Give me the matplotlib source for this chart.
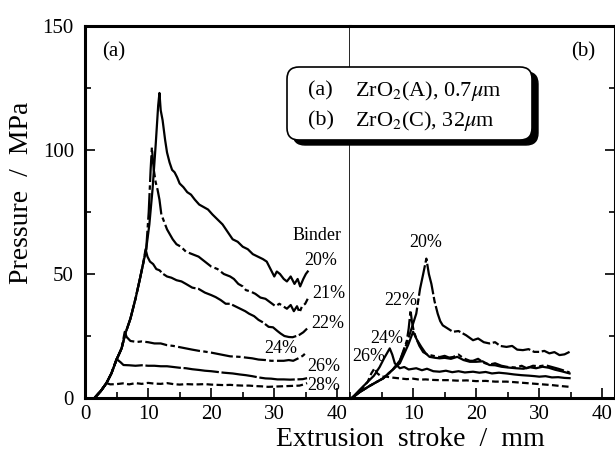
import matplotlib.pyplot as plt
from matplotlib.patches import FancyBboxPatch
from matplotlib.transforms import IdentityTransform
from matplotlib.ticker import MultipleLocator, FixedLocator

plt.rcParams['font.family'] = ['Liberation Serif', 'DejaVu Serif']
plt.rcParams['mathtext.fontset'] = 'stix'

# ---- data: (stroke mm, pressure MPa) ----
# panel (a) ZrO2(A), 0.7 um
a20 = [(1.5, 0), (2.5, 2.8), (3.4, 6), (4.2, 10), (5.0, 15.5), (5.8, 20), (6.4, 26), (7.2, 32), (8.0, 40),
       (8.7, 48), (9.2, 54), (9.7, 60), (10.2, 70), (10.7, 84), (11.2, 102), (11.6, 118), (11.8, 123),
       (12.0, 116), (12.3, 112), (12.7, 104), (13.0, 99), (13.4, 95), (13.8, 92), (14.2, 91), (14.6, 89),
       (15.0, 86.5), (15.6, 85), (16.2, 83), (16.8, 82), (17.4, 80), (18.1, 78), (18.8, 77), (19.5, 76),
       (20.2, 74), (21.0, 72), (21.8, 70), (22.6, 67), (23.4, 64), (24.2, 63), (25.0, 61), (25.8, 60),
       (26.6, 58), (27.4, 57), (28.2, 56), (28.8, 55), (29.4, 52), (30.0, 49), (30.4, 51), (30.9, 50),
       (31.5, 48), (32.0, 47), (32.6, 49), (33.2, 46), (33.7, 48), (34.1, 45), (34.6, 48), (35.0, 50), (35.3, 51)]
a21 = [(1.5, 0), (2.5, 2.8), (3.4, 6), (4.2, 10), (5.0, 15.5), (5.8, 20), (6.4, 26), (7.2, 32), (8.0, 40),
       (8.7, 48), (9.2, 54), (9.7, 60), (10.1, 75), (10.4, 92), (10.6, 101), (10.9, 92), (11.2, 87),
       (11.5, 84), (11.8, 80), (12.1, 74), (12.4, 72), (13.0, 68), (13.9, 64), (14.5, 62), (15.2, 61),
       (16.0, 59), (17.0, 58), (18.0, 57), (19.0, 55), (20.0, 53), (21.0, 52), (22.0, 50), (23.0, 49),
       (23.6, 48), (24.3, 46), (25.0, 45), (25.5, 43.5), (26.2, 43), (27.0, 42), (27.8, 40.5), (28.6, 40),
       (29.4, 38.5), (30.2, 37), (30.8, 38), (31.4, 37), (32.0, 36), (32.6, 37.5), (33.1, 35), (33.6, 37),
       (34.0, 34.5), (34.4, 37), (34.9, 38), (35.3, 40)]
a22 = [(1.5, 0), (2.5, 2.8), (3.4, 6), (4.2, 10), (5.0, 15.5), (5.8, 20), (6.4, 26), (7.2, 32), (8.0, 40),
       (8.7, 48), (9.2, 54), (9.6, 60), (9.9, 57), (10.3, 55), (10.8, 54), (11.3, 52), (11.8, 51.5),
       (12.4, 50), (13.0, 49), (13.7, 48.5), (14.5, 47.5), (15.3, 47), (16.0, 46), (17.0, 44.5), (18.0, 44),
       (19.0, 42.5), (20.0, 41.5), (20.7, 40.7), (21.5, 39.5), (22.3, 38), (23.0, 38), (23.8, 37), (24.6, 36),
       (25.4, 35), (26.0, 34), (26.8, 33), (27.5, 31.5), (28.2, 30.5), (29.1, 28.7), (29.8, 28.5), (30.5, 27),
       (31.0, 26), (31.6, 25), (32.3, 24.6), (32.9, 24.5), (33.5, 25), (34.0, 25.5), (34.6, 26.5), (35.2, 28)]
a24 = [(1.5, 0), (2.5, 2.8), (3.4, 6), (4.2, 10), (5.0, 15.5), (5.8, 20), (6.3, 26.7), (6.6, 24.6), (7.2, 23),
       (8.2, 22.6), (9.0, 22.8), (10.0, 22.5), (11.0, 22), (12.0, 22), (13.0, 21.3), (14.0, 21), (15.0, 20.5),
       (16.0, 20), (17.0, 19.5), (18.1, 19), (19.0, 18.7), (20.0, 18.3), (21.0, 17.8), (22.0, 17.3), (23.0, 16.8),
       (24.5, 16.6), (25.5, 16.3), (26.5, 16), (27.5, 15.5), (28.6, 15.3), (29.5, 15), (30.5, 15), (31.5, 15),
       (32.3, 15.3), (33.0, 15), (33.8, 16), (34.5, 17), (35.2, 18.6)]
a26 = [(1.5, 0), (2.5, 2.8), (3.4, 6), (4.2, 10), (5.0, 15.7), (5.6, 14.5), (6.1, 13.3), (7.0, 13.2), (8.0, 13),
       (9.0, 13.2), (10.0, 13), (11.0, 13), (12.0, 12.8), (13.0, 12.8), (14.0, 12.5), (15.0, 12.2), (16.0, 12),
       (17.0, 11.6), (18.1, 11.3), (19.0, 11), (20.0, 10.8), (21.0, 10.5), (22.0, 10.2), (23.4, 9.9), (24.5, 9.5),
       (25.5, 9.2), (26.5, 8.8), (27.5, 8.3), (28.6, 7.9), (29.5, 7.8), (30.5, 7.5), (31.5, 7.5), (32.5, 7.4),
       (33.5, 7.5), (34.5, 7.6), (35.2, 8)]
a28 = [(1.5, 0), (2.5, 2.8), (3.4, 6), (4.0, 5.5), (5.0, 5.6), (6.0, 5.9), (7.0, 5.5), (8.0, 6), (9.0, 5.7),
       (10.0, 6.1), (11.0, 5.8), (12.0, 5.7), (13.0, 6), (14.0, 5.6), (15.0, 5.4), (16.0, 5.6), (17.0, 5.5),
       (18.0, 5.5), (19.0, 5.6), (20.0, 5.4), (21.0, 5.3), (22.0, 5.2), (23.0, 5.3), (24.0, 5.1), (25.0, 5),
       (26.0, 5), (27.0, 4.8), (28.0, 4.7), (29.0, 4.5), (30.0, 4.6), (31.0, 4.7), (32.0, 4.8), (33.0, 4.9),
       (34.0, 5), (34.7, 5.5), (35.2, 6)]

# panel (b) ZrO2(C), 32 um
b20 = [(0.3, 0), (1.6, 2.5), (3.2, 5), (5.3, 8), (6.8, 11.5), (7.9, 15), (9.0, 22), (10.5, 34), (11.1, 44),
       (11.6, 50), (12.1, 56.2), (12.5, 50), (12.9, 46), (13.4, 39), (13.9, 34), (14.3, 31), (14.7, 29.3),
       (15.5, 28), (16.3, 26.7), (17.2, 27), (18.4, 25.3), (19.5, 23.3), (20.3, 24), (21.2, 22.5), (22.1, 22),
       (23.0, 22.5), (23.8, 21), (24.8, 20.6), (25.7, 21), (26.5, 19.5), (27.4, 19.3), (28.3, 19.7), (29.2, 18.6),
       (30.0, 18.6), (30.8, 19), (31.6, 18), (32.4, 18.5), (33.2, 17.3), (34.0, 17.6), (34.8, 18.6)]
b22 = [(0.3, 0), (1.6, 2.5), (3.2, 5), (5.3, 8), (6.8, 11.5), (7.9, 15), (9.0, 23), (9.3, 28), (9.6, 35.4),
       (9.8, 31), (10.1, 27), (10.5, 24), (11.0, 21), (11.6, 18.5), (12.3, 17.5), (13.2, 17), (14.2, 16.5),
       (15.0, 17), (15.7, 16.3), (16.3, 16.5), (17.2, 17.5), (18.0, 16), (19.0, 15), (19.5, 15), (20.3, 15.8),
       (21.2, 14.2), (22.1, 13.5), (23.0, 14), (24.0, 13), (25.0, 12.5), (26.3, 12.3), (27.2, 13), (28.0, 12),
       (29.0, 13), (30.0, 12.8), (31.0, 13.2), (32.0, 12.5), (33.0, 11.8), (34.0, 11), (34.8, 10.3)]
b24 = [(0.3, 0), (1.6, 2.5), (3.2, 5), (5.3, 8), (6.8, 11.5), (7.9, 14), (9.2, 21.3), (10.0, 26.7), (10.6, 23.5),
       (11.3, 20.6), (12.0, 18), (12.6, 16.6), (13.5, 16.2), (14.2, 16), (15.0, 16.2), (16.0, 15.8), (17.0, 16.6),
       (18.0, 15.3), (19.0, 14.6), (20.0, 14.6), (21.0, 14.8), (22.1, 13.3), (23.0, 13.2), (24.0, 12.6),
       (25.0, 12.3), (26.3, 12), (27.5, 11.8), (28.5, 12.4), (29.5, 12), (30.5, 12.6), (31.5, 12.2),
       (32.5, 11.4), (33.5, 10.8), (34.8, 9.9)]
b26 = [(0.3, 0), (1.5, 3.2), (2.6, 6), (3.8, 9), (4.7, 12.5), (5.4, 16), (6.3, 20), (6.7, 17.5), (7.1, 14),
       (7.9, 12), (8.6, 12.5), (9.3, 11.5), (10.5, 12), (11.4, 11.2), (12.2, 11.8), (13.2, 10.8), (14.2, 10.6),
       (15.2, 11), (16.2, 10.4), (17.2, 10.8), (18.2, 10.3), (19.5, 10.6), (20.5, 10.2), (21.5, 10.5),
       (22.5, 9.9), (23.6, 10.2), (24.8, 9.9), (26.0, 9.5), (27.2, 9.2), (28.4, 9), (29.3, 8.8), (30.0, 8.6),
       (31.0, 8.8), (32.0, 8.3), (33.0, 8.4), (34.0, 8.1), (34.8, 8)]
b28 = [(0.3, 0), (1.6, 3), (2.8, 6.5), (3.4, 10), (3.9, 12), (4.3, 10), (5.0, 8.6), (5.8, 8.6), (6.8, 8.2),
       (7.9, 7.9), (9.0, 7.6), (10.0, 7.8), (11.0, 7.4), (12.0, 7.5), (13.0, 7.3), (14.2, 7.2), (15.5, 7.2),
       (17.0, 7), (18.5, 7.1), (20.0, 6.8), (21.5, 6.9), (23.0, 6.6), (24.8, 6.6), (26.0, 6.4), (27.5, 6.1),
       (29.0, 5.8), (30.5, 5.5), (32.0, 5.2), (33.5, 4.8), (34.8, 4.5)]

# curve labels: (text, x, y)
a_labels = [('Binder', 36.8, 65.5), ('20%', 37.4, 55.5), ('21%', 38.7, 42.0), ('22%', 38.4, 30.2),
            ('24%', 31.1, 20.1), ('26%', 37.9, 12.6), ('28%', 37.9, 5.2)]
b_labels = [('20%', 12.0, 62.8), ('22%', 8.0, 39.4), ('24%', 5.8, 24.0), ('26%', 2.9, 16.6)]

W, H = 615, 458
fig = plt.figure(figsize=(W / 100, H / 100), dpi=100)
ax1 = fig.add_axes([85 / W, 60 / H, 265 / W, 372 / H])
ax2 = fig.add_axes([350 / W, 60 / H, 265 / W, 372 / H])

lw = 1.6
a_styles = [(a20, (None, None)), (a21, (12, 1.5, 2, 1.5)), (a22, (16, 1.2)),
            (a24, (10, 1.5, 2, 1.5)), (a26, (16, 1.2)), (a28, (3, 1.5))]
b_styles = [(b20, (14, 1.2, 3, 1.2)), (b22, (8, 1.5, 2, 1.5)), (b24, (None, None)),
            (b26, (None, None)), (b28, (3, 1.5))]

for ax, styles in [(ax1, a_styles), (ax2, b_styles)]:
    for pts, dash in styles:
        xs = [p[0] for p in pts]
        ys = [p[1] for p in pts]
        line, = ax.plot(xs, ys, color='black', lw=lw, solid_joinstyle='round')
        if dash[0] is not None:
            line.set_dashes(dash)

for txt, x, y in a_labels:
    ax1.text(x, y, txt, ha='center', va='center', fontsize=13)
for txt, x, y in b_labels:
    ax2.text(x, y, txt, ha='center', va='center', fontsize=13)

for ax in (ax1, ax2):
    ax.set_xlim(0, 42)
    ax.set_ylim(0, 150)
    ax.xaxis.set_minor_locator(MultipleLocator(5))
    ax.yaxis.set_major_locator(MultipleLocator(50))
    ax.yaxis.set_minor_locator(MultipleLocator(25))
    ax.tick_params(which='both', direction='in', top=False, labelsize=15, width=1.2, pad=5)
    ax.tick_params(which='major', length=7)
    ax.tick_params(which='minor', length=4)
    for s in ax.spines.values():
        s.set_linewidth(2.2)

ax1.xaxis.set_major_locator(FixedLocator([0, 10, 20, 30, 40]))
ax1.tick_params(axis='y', which='both', right=False, pad=8)
ax1.spines['right'].set_linewidth(1.2)
ax2.spines['left'].set_visible(False)
ax2.xaxis.set_major_locator(FixedLocator([10, 20, 30, 40]))
ax2.tick_params(axis='y', which='both', left=False, right=True, labelleft=False)

ax1.text(0.11, 0.93, '(a)', transform=ax1.transAxes, ha='center', va='center', fontsize=15)
ax2.text(0.88, 0.93, '(b)', transform=ax2.transAxes, ha='center', va='center', fontsize=15)

fig.text(22 / W, 0.58, 'Pressure  /  MPa', rotation=90, ha='center', va='center', fontsize=20)
fig.text(0.667, 18 / H, 'Extrusion  stroke  /  mm', ha='center', va='center', fontsize=20)

# legend box with drop shadow, in pixel coordinates
bx0, bx1 = 287, 532
by0, by1 = H - 140, H - 67
shadow = FancyBboxPatch((bx0 + 6, by0 - 5), bx1 - bx0, by1 - by0,
                        boxstyle='round,pad=0,rounding_size=12', transform=IdentityTransform(),
                        fc='black', ec='black', lw=1)
box = FancyBboxPatch((bx0, by0), bx1 - bx0, by1 - by0,
                     boxstyle='round,pad=0,rounding_size=12', transform=IdentityTransform(),
                     fc='white', ec='black', lw=1.2)
fig.add_artist(shadow)
fig.add_artist(box)
fig.text(308 / W, 1 - 91 / H, '(a)', ha='left', va='center', fontsize=16)
fig.text(355 / W, 1 - 91 / H, r'ZrO$_2$(A), 0.7$\mu$m', ha='left', va='center', fontsize=16)
fig.text(308 / W, 1 - 121 / H, '(b)', ha='left', va='center', fontsize=16)
fig.text(355 / W, 1 - 121 / H, r'ZrO$_2$(C), 32$\mu$m', ha='left', va='center', fontsize=16)

fig.savefig('out.png', dpi=100)
